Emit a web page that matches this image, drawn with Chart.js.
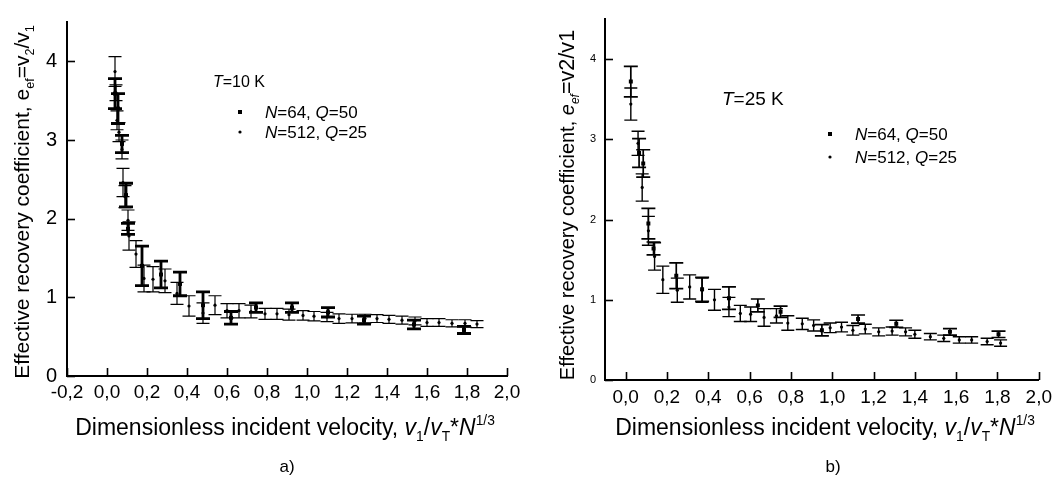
<!DOCTYPE html>
<html><head><meta charset="utf-8">
<script src="https://cdn.jsdelivr.net/npm/chart.js@4.4.1/dist/chart.umd.min.js"></script>
<style>
html,body{margin:0;padding:0;background:#fff;}
#wrap{position:relative;width:1058px;height:479px;overflow:hidden;background:#fff;}
#wrap canvas{position:absolute;left:0;top:0;}
</style></head><body>
<div id="wrap"><canvas id="ca" width="1058" height="479"></canvas><canvas id="cb" width="1058" height="479"></canvas></div>
<script>
// ---------- data ----------
const xTicksA = [-0.2, 0.0, 0.2, 0.4, 0.6, 0.8, 1.0, 1.2, 1.4, 1.6, 1.8, 2.0];
const xTicksB = [0.0, 0.2, 0.4, 0.6, 0.8, 1.0, 1.2, 1.4, 1.6, 1.8, 2.0];
const yTicks = [0, 1, 2, 3, 4];

// panel a), T = 10 K
const a64X = [0.04, 0.055, 0.075, 0.095, 0.105, 0.175, 0.27, 0.365, 0.48, 0.62, 0.745, 0.925, 1.105, 1.285, 1.535, 1.785];
const a64Y = [3.59, 3.40, 2.95, 2.30, 1.87, 1.40, 1.29, 1.17, 0.90, 0.74, 0.87, 0.87, 0.81, 0.71, 0.655, 0.585];
const a64E = [0.19, 0.19, 0.11, 0.15, 0.07, 0.25, 0.17, 0.15, 0.17, 0.08, 0.06, 0.06, 0.06, 0.05, 0.055, 0.045];

const a512X = [0.04, 0.045, 0.05, 0.06, 0.075, 0.08, 0.09, 0.105, 0.11, 0.145, 0.185, 0.23, 0.29, 0.35, 0.41, 0.48, 0.54, 0.60, 0.66, 0.72, 0.79, 0.85, 0.91, 0.98, 1.035, 1.10, 1.16, 1.225, 1.29, 1.35, 1.41, 1.475, 1.54, 1.60, 1.66, 1.725, 1.79, 1.85];
const a512Y = [3.87, 3.60, 3.25, 3.10, 2.88, 2.46, 2.28, 1.98, 1.78, 1.55, 1.24, 1.23, 1.21, 1.05, 0.89, 0.80, 0.90, 0.83, 0.83, 0.82, 0.79, 0.79, 0.78, 0.77, 0.76, 0.75, 0.73, 0.73, 0.73, 0.73, 0.72, 0.71, 0.70, 0.68, 0.68, 0.67, 0.67, 0.66];
const a512E = [0.19, 0.10, 0.12, 0.12, 0.12, 0.18, 0.14, 0.13, 0.18, 0.17, 0.17, 0.16, 0.15, 0.14, 0.13, 0.13, 0.12, 0.09, 0.09, 0.08, 0.07, 0.07, 0.07, 0.06, 0.06, 0.06, 0.06, 0.055, 0.055, 0.05, 0.05, 0.05, 0.05, 0.05, 0.05, 0.045, 0.045, 0.045];

// panel b), T = 25 K
const b64X = [0.025, 0.065, 0.085, 0.11, 0.135, 0.245, 0.37, 0.50, 0.64, 0.75, 0.95, 1.125, 1.31, 1.57, 1.805];
const b64Y = [3.72, 2.83, 2.70, 1.95, 1.64, 1.30, 1.13, 1.02, 0.93, 0.85, 0.62, 0.76, 0.70, 0.60, 0.57];
const b64E = [0.19, 0.18, 0.17, 0.19, 0.08, 0.16, 0.15, 0.14, 0.08, 0.07, 0.07, 0.05, 0.045, 0.04, 0.04];

const b512X = [0.025, 0.06, 0.08, 0.11, 0.14, 0.18, 0.25, 0.31, 0.37, 0.43, 0.50, 0.555, 0.605, 0.67, 0.73, 0.785, 0.855, 0.91, 0.99, 1.045, 1.10, 1.16, 1.225, 1.29, 1.355, 1.40, 1.475, 1.54, 1.615, 1.675, 1.75, 1.815];
const b512Y = [3.44, 2.95, 2.40, 1.86, 1.54, 1.25, 1.12, 1.16, 1.12, 1.00, 0.91, 0.83, 0.82, 0.78, 0.80, 0.71, 0.70, 0.68, 0.65, 0.66, 0.62, 0.635, 0.60, 0.61, 0.60, 0.57, 0.54, 0.52, 0.50, 0.50, 0.48, 0.46];
const b512E = [0.20, 0.15, 0.17, 0.18, 0.17, 0.17, 0.15, 0.15, 0.15, 0.13, 0.12, 0.10, 0.09, 0.11, 0.09, 0.09, 0.07, 0.07, 0.06, 0.06, 0.06, 0.06, 0.05, 0.05, 0.05, 0.05, 0.04, 0.04, 0.04, 0.04, 0.04, 0.04];

const seriesNames = ['N=64, Q=50', 'N=512, Q=25'];

// ---------- helpers ----------
const FONT = '"Liberation Sans", Arial, Helvetica, sans-serif';

function drawRuns(ctx, runs, x, y, size, align) {
  const items = runs.map(r => {
    const s = (r.sub || r.sup) ? size * 0.6 : size * (r.scale || 1);
    const f = (r.i ? 'italic ' : '') + s.toFixed(1) + 'px ' + FONT;
    ctx.font = f;
    return { t: r.t, f, w: ctx.measureText(r.t).width, dy: r.sub ? size * 0.24 : (r.sup ? -size * 0.42 : 0) };
  });
  const total = items.reduce((a, b) => a + b.w, 0);
  let cx = align === 'center' ? x - total / 2 : x;
  ctx.textBaseline = 'alphabetic';
  ctx.textAlign = 'left';
  ctx.fillStyle = '#000';
  items.forEach(it => { ctx.font = it.f; ctx.fillText(it.t, cx, y + it.dy); cx += it.w; });
}

function legendRuns(name) {
  const m = name.match(/^N=(\d+), Q=(\d+)$/);
  return [{ t: 'N', i: 1 }, { t: '=' + m[1] + ', ' }, { t: 'Q', i: 1 }, { t: '=' + m[2] }];
}

const xTitleRuns = [
  { t: 'Dimensionless incident velocity, ' },
  { t: 'v', i: 1 }, { t: '1', sub: 1 }, { t: '/' },
  { t: 'v', i: 1 }, { t: 'T', sub: 1 }, { t: '*' },
  { t: 'N', i: 1 }, { t: '1/3', sup: 1 }
];
const yTitleRunsA = [
  { t: 'Effective recovery coefficient, e' }, { t: 'ef', sub: 1 },
  { t: '=v' }, { t: '2', sub: 1 }, { t: '/v' }, { t: '1', sub: 1 }
];
const yTitleRunsB = [
  { t: 'Effective recovery coefficient, ' }, { t: 'e', i: 1 }, { t: 'ef', sub: 1, i: 1 },
  { t: '=v2/v1', scale: 1.08 }
];

const errorBars = {
  id: 'errorBars',
  beforeDatasetsDraw(chart) {
    const { ctx, scales: { x, y } } = chart;
    chart.data.datasets.forEach(ds => {
      if (!ds.errors) return;
      ctx.save();
      ctx.strokeStyle = '#000';
      ctx.lineWidth = ds.barWidth;
      ctx.lineCap = 'butt';
      ds.data.forEach((p, i) => {
        const px = x.getPixelForValue(p.x);
        const yt = y.getPixelForValue(p.y + ds.errors[i]);
        const yb = y.getPixelForValue(p.y - ds.errors[i]);
        ctx.beginPath();
        ctx.moveTo(px, yt); ctx.lineTo(px, yb);
        ctx.moveTo(px - ds.capHalf, yt); ctx.lineTo(px + ds.capHalf, yt);
        ctx.moveTo(px - ds.capHalf, yb); ctx.lineTo(px + ds.capHalf, yb);
        ctx.stroke();
      });
      ctx.restore();
    });
  }
};

function decoPlugin(p) {
  return {
    id: 'deco',
    afterDraw(chart) {
      const { ctx, chartArea: ca, scales: { x, y } } = chart;
      ctx.save();
      ctx.strokeStyle = '#000';
      ctx.lineWidth = 1.6;
      x.ticks.forEach(t => {
        const px = Math.round(x.getPixelForValue(t.value)) + 0.5;
        ctx.beginPath(); ctx.moveTo(px, ca.bottom); ctx.lineTo(px, ca.bottom - p.tickLen); ctx.stroke();
      });
      y.ticks.forEach(t => {
        const py = Math.round(y.getPixelForValue(t.value)) + 0.5;
        ctx.beginPath(); ctx.moveTo(ca.left, py); ctx.lineTo(ca.left + p.tickLen, py); ctx.stroke();
      });
      ctx.save();
      ctx.translate(p.yTitle.x, p.yTitle.y);
      ctx.rotate(-Math.PI / 2);
      drawRuns(ctx, p.yTitle.runs, 0, p.yTitle.size * 0.36, p.yTitle.size, 'center');
      ctx.restore();
      drawRuns(ctx, xTitleRuns, p.xTitle.x, p.xTitle.y, p.xTitle.size, 'center');
      drawRuns(ctx, [{ t: p.letter.t }], p.letter.x, p.letter.y, p.letter.size, 'center');
      drawRuns(ctx, [{ t: 'T', i: 1 }, { t: p.legend.temp }], p.legend.tx, p.legend.ty, p.legend.tsize, 'left');
      chart.data.datasets.forEach((ds, k) => {
        const my = p.legend.y0 + k * p.legend.dy;
        ctx.fillStyle = '#000';
        if (ds.pointStyle === 'rect') {
          ctx.fillRect(p.legend.mx - 2, my - 2, 4, 4);
        } else {
          ctx.beginPath(); ctx.arc(p.legend.mx, my, 1.6, 0, Math.PI * 2); ctx.fill();
        }
        drawRuns(ctx, legendRuns(ds.label), p.legend.lx, my + p.legend.size * 0.36, p.legend.size, 'left');
      });
      ctx.restore();
    }
  };
}

function toPts(xs, ys) { return xs.map((v, i) => ({ x: v, y: ys[i] })); }

function makePanel(id, d, p) {
  const fmtX = v => (Math.abs(v) < 1e-9 ? 0 : v).toFixed(1).replace('.', ',');
  return new Chart(document.getElementById(id), {
    type: 'scatter',
    data: {
      datasets: [
        { label: seriesNames[0], data: toPts(d.x64, d.y64), errors: d.e64,
          pointStyle: 'rect', pointRadius: 2.8, pointBorderWidth: 0,
          backgroundColor: '#000', borderColor: '#000', barWidth: p.bar64, capHalf: p.cap64 },
        { label: seriesNames[1], data: toPts(d.x512, d.y512), errors: d.e512,
          pointStyle: 'circle', pointRadius: 1.6, pointBorderWidth: 0,
          backgroundColor: '#000', borderColor: '#000', barWidth: p.bar512, capHalf: p.cap512 }
      ]
    },
    options: {
      responsive: false, animation: false, events: [],
      layout: { padding: p.padding },
      plugins: { legend: { display: false }, tooltip: { enabled: false } },
      scales: {
        x: {
          type: 'linear', min: p.xMin, max: 2.0,
          afterBuildTicks: s => { s.ticks = d.xTicks.map(v => ({ value: v })); },
          afterFit: s => { s.height = p.xAxisH; },
          grid: { display: false, drawTicks: false },
          border: { display: true, color: '#000', width: 2 },
          ticks: { color: '#000', padding: p.xTickPad, autoSkip: false, maxRotation: 0,
                   font: { family: FONT, size: p.xTickSize }, callback: v => fmtX(v) }
        },
        y: {
          type: 'linear', min: 0, max: 4.5,
          afterBuildTicks: s => { s.ticks = yTicks.map(v => ({ value: v })); },
          afterFit: s => { s.width = p.yAxisW; },
          grid: { display: false, drawTicks: false },
          border: { display: true, color: '#000', width: 2 },
          ticks: { color: '#000', padding: p.yTickPad, autoSkip: false,
                   font: { family: FONT, size: p.yTickSize }, callback: v => String(v) }
        }
      }
    },
    plugins: [errorBars, decoPlugin(p)]
  });
}

makePanel('ca',
  { x64: a64X, y64: a64Y, e64: a64E, x512: a512X, y512: a512Y, e512: a512E, xTicks: xTicksA },
  { padding: { left: 0, right: 551, top: 13, bottom: 0 }, yAxisW: 67, xAxisH: 103, xMin: -0.2,
    xTickPad: 5, xTickSize: 19, yTickPad: 10, yTickSize: 20, tickLen: 8,
    bar64: 2.8, cap64: 7, bar512: 1.2, cap512: 6.5,
    yTitle: { x: 21, y: 202, size: 21, runs: yTitleRunsA },
    xTitle: { x: 285, y: 435, size: 23 },
    letter: { t: 'a)', x: 287, y: 472, size: 17 },
    legend: { temp: '=10 K', tx: 213, ty: 87, tsize: 16, mx: 240, lx: 265, y0: 112, dy: 20, size: 17 } });

makePanel('cb',
  { x64: b64X, y64: b64Y, e64: b64E, x512: b512X, y512: b512Y, e512: b512E, xTicks: xTicksB },
  { padding: { left: 565, right: 15, top: 19, bottom: 0 }, yAxisW: 40, xAxisH: 99, xMin: -0.1,
    xTickPad: 6, xTickSize: 19, yTickPad: 9, yTickSize: 11, tickLen: 8,
    bar64: 1.7, cap64: 7, bar512: 1.4, cap512: 6.5,
    yTitle: { x: 567, y: 205, size: 20, runs: yTitleRunsB },
    xTitle: { x: 825, y: 435, size: 23 },
    letter: { t: 'b)', x: 833, y: 472, size: 17 },
    legend: { temp: '=25 K', tx: 722, ty: 105, tsize: 19, mx: 830, lx: 855, y0: 134, dy: 23, size: 17 } });
</script>
</body></html>
